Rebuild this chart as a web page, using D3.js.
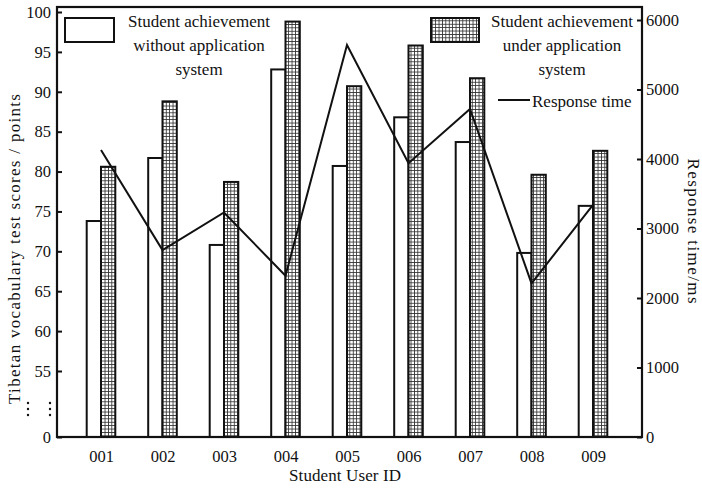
<!DOCTYPE html>
<html>
<head>
<meta charset="utf-8">
<script src="https://cdn.jsdelivr.net/npm/d3@7"></script>
<style>
  body { margin: 0; background: #fff; }
  svg text { font-family: "Liberation Serif", "Times New Roman", serif; fill: #111; }
</style>
</head>
<body>
<div id="chart"></div>
<script>
// chart data
const categories = ['001', '002', '003', '004', '005', '006', '007', '008', '009'];
const withoutSystem = [73.8, 81.7, 70.8, 92.8, 80.7, 86.8, 83.7, 69.8, 75.7];
const underSystem = [80.6, 88.8, 78.7, 98.8, 90.7, 95.8, 91.7, 79.6, 82.6];
const responseTime = [4130, 2690, 3230, 2320, 5640, 3940, 4720, 2210, 3340];
const leftTicks = [0, 55, 60, 65, 70, 75, 80, 85, 90, 95, 100];
const rightTicks = [0, 1000, 2000, 3000, 4000, 5000, 6000];

const FONT = '"Liberation Serif", "Times New Roman", serif';
const width = 702, height = 488;
const margin = { top: 7, right: 60, bottom: 51, left: 57 };
const plotW = width - margin.left - margin.right;
const plotH = height - margin.top - margin.bottom;

const svg = d3.select('#chart').append('svg')
    .attr('width', width)
    .attr('height', height)
    .attr('font-family', FONT);

const defs = svg.append('defs');
const pat = defs.append('pattern')
    .attr('id', 'grid')
    .attr('patternUnits', 'userSpaceOnUse')
    .attr('width', 3.4)
    .attr('height', 3.4);
pat.append('rect').attr('width', 3.4).attr('height', 3.4).attr('fill', '#fff');
pat.append('path')
    .attr('d', 'M0,0.4H3.4M0.4,0V3.4')
    .attr('stroke', '#333')
    .attr('stroke-width', 0.9);

const g = svg.append('g').attr('transform', `translate(${margin.left},${margin.top})`);

// scales
const x = d3.scalePoint().domain(categories).range([44, plotW - 49]);
const barW = 14.3;
// broken left axis: 0 then jump to 55..100
const yLeft = d3.scaleLinear().domain([0, 55, 100]).range([plotH, plotH - 66, 5]);
const yRight = d3.scaleLinear().domain([0, 6000]).range([plotH, 13]);

// bars
g.selectAll('.bar-without')
    .data(categories)
    .join('rect')
    .attr('class', 'bar-without')
    .attr('x', d => x(d) - barW)
    .attr('y', (d, i) => yLeft(withoutSystem[i]))
    .attr('width', barW)
    .attr('height', (d, i) => plotH - yLeft(withoutSystem[i]))
    .attr('fill', '#fff')
    .attr('stroke', '#111')
    .attr('stroke-width', 2);

g.selectAll('.bar-under')
    .data(categories)
    .join('rect')
    .attr('class', 'bar-under')
    .attr('x', d => x(d))
    .attr('y', (d, i) => yLeft(underSystem[i]))
    .attr('width', barW)
    .attr('height', (d, i) => plotH - yLeft(underSystem[i]))
    .attr('fill', 'url(#grid)')
    .attr('stroke', '#111')
    .attr('stroke-width', 2);

// response time line
const line = d3.line()
    .x((d, i) => x(categories[i]))
    .y(d => yRight(d));
g.append('path')
    .datum(responseTime)
    .attr('d', line)
    .attr('fill', 'none')
    .attr('stroke', '#111')
    .attr('stroke-width', 2);

// axes
const leftAxis = g.append('g')
    .call(d3.axisLeft(yLeft).tickValues(leftTicks).tickSize(-5).tickPadding(6));
const rightAxis = g.append('g')
    .attr('transform', `translate(${plotW},0)`)
    .call(d3.axisRight(yRight).tickValues(rightTicks).tickFormat(d3.format('d')).tickSize(-5).tickPadding(4));
const bottomAxis = g.append('g')
    .attr('transform', `translate(0,${plotH})`)
    .call(d3.axisBottom(x).tickSize(0).tickPadding(13));

[leftAxis, rightAxis, bottomAxis].forEach(a => {
    a.attr('font-family', FONT).attr('font-size', 16.5);
    a.select('.domain').remove();
    a.selectAll('line').attr('stroke', '#111').attr('stroke-width', 2);
    a.selectAll('text').attr('fill', '#111');
});

// frame
g.append('rect')
    .attr('width', plotW)
    .attr('height', plotH)
    .attr('fill', 'none')
    .attr('stroke', '#111')
    .attr('stroke-width', 2.2);

// axis break dots
[-29, -7].forEach(dx => {
    [0, 6, 12].forEach(dy => {
        g.append('circle')
            .attr('cx', dx)
            .attr('cy', plotH - 34 + dy)
            .attr('r', 1.2)
            .attr('fill', '#111');
    });
});

// titles
svg.append('text')
    .attr('transform', `translate(20,249) rotate(-90)`)
    .attr('text-anchor', 'middle')
    .attr('font-size', 17)
    .attr('textLength', 310)
    .attr('lengthAdjust', 'spacing')
    .text('Tibetan vocabulary test scores / points');

svg.append('text')
    .attr('transform', `translate(688,231) rotate(90)`)
    .attr('text-anchor', 'middle')
    .attr('font-size', 17)
    .attr('textLength', 145)
    .attr('lengthAdjust', 'spacing')
    .text('Response time/ms');

svg.append('text')
    .attr('x', 345)
    .attr('y', 481)
    .attr('text-anchor', 'middle')
    .attr('font-size', 17)
    .attr('textLength', 112)
    .attr('lengthAdjust', 'spacing')
    .text('Student User ID');

// legend
const legend = svg.append('g');
legend.append('rect')
    .attr('x', 65).attr('y', 18).attr('width', 49).attr('height', 24)
    .attr('fill', '#fff').attr('stroke', '#111').attr('stroke-width', 2);
legend.append('text')
    .attr('x', 199).attr('y', 27)
    .attr('text-anchor', 'middle')
    .attr('font-size', 17)
    .selectAll('tspan')
    .data(['Student achievement', 'without application', 'system'])
    .join('tspan')
    .attr('x', 199)
    .attr('dy', (d, i) => i === 0 ? 0 : 24)
    .text(d => d);

legend.append('rect')
    .attr('x', 431).attr('y', 18).attr('width', 48).attr('height', 24)
    .attr('fill', 'url(#grid)').attr('stroke', '#111').attr('stroke-width', 2);
legend.append('text')
    .attr('x', 562).attr('y', 27)
    .attr('text-anchor', 'middle')
    .attr('font-size', 17)
    .selectAll('tspan')
    .data(['Student achievement', 'under application', 'system'])
    .join('tspan')
    .attr('x', 562)
    .attr('dy', (d, i) => i === 0 ? 0 : 24)
    .text(d => d);

legend.append('line')
    .attr('x1', 498).attr('x2', 530).attr('y1', 100).attr('y2', 100)
    .attr('stroke', '#111').attr('stroke-width', 2);
legend.append('text')
    .attr('x', 532).attr('y', 107)
    .attr('font-size', 17)
    .text('Response time');
</script>
</body>
</html>
